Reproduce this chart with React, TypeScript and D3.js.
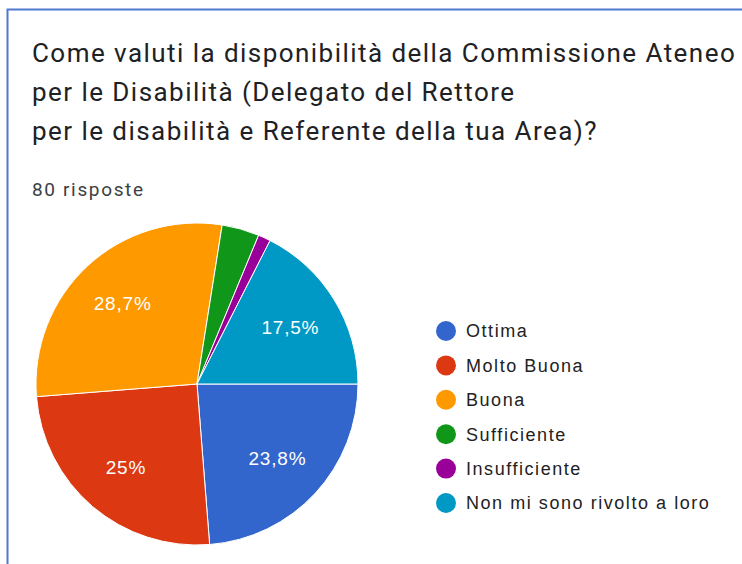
import React from 'react'
import * as d3 from 'd3'

const titleLines = [
  'Come valuti la disponibilità della Commissione Ateneo',
  'per le Disabilità (Delegato del Rettore',
  'per le disabilità e Referente della tua Area)?',
]
const responsesLabel = '80 risposte'

const categories = ['Ottima', 'Molto Buona', 'Buona', 'Sufficiente', 'Insufficiente', 'Non mi sono rivolto a loro']
const counts = [19, 20, 23, 3, 1, 14]
const sliceLabels = ['23,8%', '25%', '28,7%', '', '', '17,5%']
const colors = ['#3366cc', '#dc3912', '#ff9900', '#109618', '#990099', '#0099c6']

const W = 742
const H = 564

export default function App() {
  const cx = 197
  const cy = 384
  const r = 161

  const pie = d3.pie<number>()
    .sort(null)
    .startAngle(Math.PI / 2)
    .endAngle(Math.PI / 2 + 2 * Math.PI)
  const arcs = pie(counts)
  const arc = d3.arc<d3.PieArcDatum<number>>().innerRadius(0).outerRadius(r)
  const labelArc = d3.arc<d3.PieArcDatum<number>>().innerRadius(r * 0.68).outerRadius(r * 0.68)

  return (
    <svg width={W} height={H} style={{ position: 'absolute', left: 0, top: 0, background: '#fff' }}>
      {/* frame */}
      <path d={`M${W},9.5 H7.5 V${H}`} fill="none" stroke="#4f78cf" strokeWidth={2} />

      {titleLines.map((t, i) => (
        <text key={i} x={32} y={62 + i * 39} fontFamily="Roboto, sans-serif" fontSize={26}
          letterSpacing={1.45} fill="#202124">
          {t}
        </text>
      ))}
      <text x={32} y={196} fontFamily="Roboto, sans-serif" fontSize={19} letterSpacing={1.65} fill="#3c4043">
        {responsesLabel}
      </text>

      <g transform={`translate(${cx},${cy})`}>
        {arcs.map((a, i) => (
          <path key={i} d={arc(a) ?? ''} fill={colors[i]} stroke="#fff" strokeWidth={1} />
        ))}
        {arcs.map((a, i) => {
          if (!sliceLabels[i]) return null
          const [lx, ly] = labelArc.centroid(a)
          return (
            <text key={i} x={lx} y={ly} dy="0.36em" textAnchor="middle"
              fontFamily="'Liberation Sans', Arial, sans-serif" fontSize={19} letterSpacing={0.8} fill="#fff">
              {sliceLabels[i]}
            </text>
          )
        })}
      </g>

      <g fontFamily="'Liberation Sans', Arial, sans-serif" fontSize={18} letterSpacing={1.55} fill="#222">
        {categories.map((c, i) => (
          <g key={c} transform={`translate(446,${331 + i * 34.4})`}>
            <circle r={10} fill={colors[i]} />
            <text x={20} dy="0.36em">{c}</text>
          </g>
        ))}
      </g>
    </svg>
  )
}
